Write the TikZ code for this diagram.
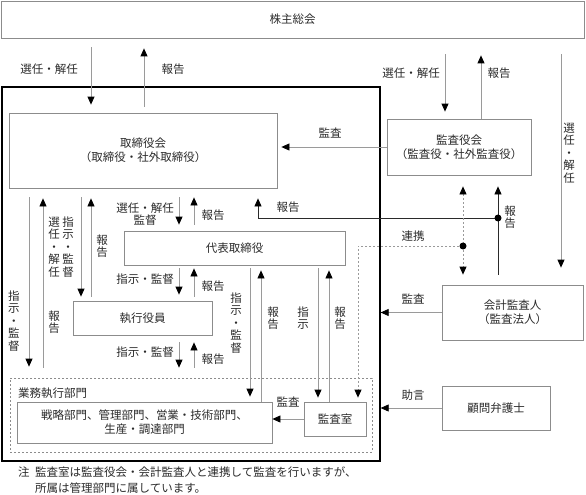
\documentclass[tikz,border=0pt]{standalone}
\usepackage{fontspec}
\setmainfont{Noto Sans CJK JP}
\usepackage{xcolor}
\usetikzlibrary{arrows.meta}
\definecolor{lineg}{HTML}{9A9A9A}
\definecolor{boxg}{HTML}{8C8C8C}
\definecolor{ink}{HTML}{2A2A2A}

\begin{document}
\begin{tikzpicture}[x=1pt,y=-1pt,text=ink,font=\fontsize{11.5}{14}\selectfont,
		box/.style={draw=boxg,line width=0.8pt,inner sep=0pt,align=center},
		bigframe/.style={draw=black,line width=1.3pt,inner sep=0pt},
		dashframe/.style={draw=boxg,line width=0.7pt,dash pattern=on 2pt off 2pt,inner sep=0pt},
		tip/.tip={Triangle[length=8pt,width=7pt,color=black]},
		arr/.style={draw=lineg,line width=0.8pt,-tip},
		darkarr/.style={draw=ink,line width=0.8pt,-tip},
		dotarr/.style={draw=lineg,line width=0.8pt,dash pattern=on 2pt off 2pt},
		tate/.style={align=center,inner sep=0pt,font=\fontsize{11.5}{12.5}\selectfont},
		lbl/.style={inner sep=0pt,align=center}]
		\useasboundingbox (0,0) rectangle (586,495);
		\node[box,minimum width=583,minimum height=37] (soukai) at (292.5,19.5) {株主総会};
		\node[bigframe,minimum width=378,minimum height=374] (waku) at (191,274) {};
		\node[dashframe,minimum width=362,minimum height=74] (gyomu) at (191,415) {};
		\node[box,minimum width=268,minimum height=75] (tori) at (143,150.5) {取締役会\\（取締役・社外取締役）};
		\node[box,minimum width=144,minimum height=56] (kansayaku) at (459,147) {監査役会\\（監査役・社外監査役）};
		\node[box,minimum width=221,minimum height=34] (daihyo) at (234.5,248) {代表取締役};
		\node[box,minimum width=139,minimum height=34] (shikko) at (142.5,318) {執行役員};
		\node[box,minimum width=255,minimum height=41] (senryaku) at (144.5,422.5) {戦略部門、管理部門、営業・技術部門、\\生産・調達部門};
		\node[box,minimum width=62,minimum height=34] (shitsu) at (335,419) {監査室};
		\node[box,minimum width=141,minimum height=55] (kaikei) at (512.5,312.5) {会計監査人\\（監査法人）};
		\node[box,minimum width=108,minimum height=44] (bengoshi) at (496,408) {顧問弁護士};
		\node[lbl,anchor=west] (gyomulbl) at (18,393) {業務執行部門};

		\coordinate (s1) at (91,0);
		\coordinate (s2) at (144,0);
		\coordinate (s3) at (445,0);
		\coordinate (s4) at (481,0);
		\coordinate (s5) at (561,0);
		\coordinate (l1) at (29,0);
		\coordinate (l2) at (43,0);
		\coordinate (l3) at (81,0);
		\coordinate (l4) at (91,0);
		\coordinate (m1) at (179,0);
		\coordinate (m2) at (194,0);
		\coordinate (r1) at (250,0);
		\coordinate (r2) at (261,0);
		\coordinate (r3) at (318,0);
		\coordinate (r4) at (329,0);
		\coordinate (h1) at (258,0);
		\coordinate (v1) at (463,0);
		\coordinate (v2) at (498,0);
		\coordinate (v3) at (358,0);
		\coordinate (dot1) at (498,218);
		\coordinate (dot2) at (463,246);

		\draw[arr,shorten <=9pt,shorten >=8pt] (soukai.south -| s1) -- (tori.north -| s1);
		\draw[arr,shorten <=6pt,shorten >=10pt] (tori.north -| s2) -- (soukai.south -| s2);
		\draw[arr,shorten <=16pt,shorten >=7pt] (soukai.south -| s3) -- (kansayaku.north -| s3);
		\draw[arr,shorten >=17pt] (kansayaku.north -| s4) -- (soukai.south -| s4);
		\draw[arr,shorten <=16pt,shorten >=17pt] (soukai.south -| s5) -- (kaikei.north -| s5);
		\draw[arr,shorten >=4pt] (kansayaku.west) -- (kansayaku.west -| tori.east);

		\draw[darkarr,shorten <=10pt,shorten >=11pt] (kaikei.north -| v2) -- (kansayaku.south -| v2);
		\draw[darkarr,shorten >=10pt] (dot1) -| (tori.south -| h1);
		\fill (dot1) circle[radius=3.5pt];
		\draw[dotarr,tip-tip,shorten <=11pt,shorten >=10pt] (kansayaku.south -| v1) -- (kaikei.north -| v1);
		\draw[dotarr,-tip,shorten >=4pt] (dot2) -| (shitsu.north -| v3);
		\fill (dot2) circle[radius=3.5pt];
		\draw[arr] (kaikei.west) -- (kaikei.west -| waku.east);
		\draw[arr] (bengoshi.west) -- (bengoshi.west -| waku.east);

		\draw[arr,shorten <=9pt,shorten >=11pt] (tori.south -| l1) -- (gyomu.north -| l1);
		\draw[arr,shorten <=10pt,shorten >=10pt] (gyomu.north -| l2) -- (tori.south -| l2);
		\draw[arr,shorten <=9pt,shorten >=4pt] (tori.south -| l3) -- (shikko.north -| l3);
		\draw[arr,shorten <=4pt,shorten >=10pt] (shikko.north -| l4) -- (tori.south -| l4);
		\draw[arr,shorten <=9pt,shorten >=6pt] (tori.south -| m1) -- (daihyo.north -| m1);
		\draw[arr,shorten <=6pt,shorten >=9pt] (daihyo.north -| m2) -- (tori.south -| m2);
		\draw[arr,shorten <=3pt,shorten >=6pt] (daihyo.south -| m1) -- (shikko.north -| m1);
		\draw[arr,shorten <=4pt,shorten >=3pt] (shikko.north -| m2) -- (daihyo.south -| m2);
		\draw[arr,shorten <=7pt,shorten >=10pt] (shikko.south -| m1) -- (gyomu.north -| m1);
		\draw[arr,shorten <=10pt,shorten >=7pt] (gyomu.north -| m2) -- (shikko.south -| m2);
		\draw[arr,shorten <=3pt,shorten >=5pt] (daihyo.south -| r1) -- (senryaku.north -| r1);
		\draw[arr,shorten >=5pt] (senryaku.north -| r2) -- (daihyo.south -| r2);
		\draw[arr,shorten <=3pt,shorten >=4pt] (daihyo.south -| r3) -- (shitsu.north -| r3);
		\draw[arr,shorten >=5pt] (shitsu.north -| r4) -- (daihyo.south -| r4);
		\draw[arr] (shitsu.west) -- (shitsu.west -| senryaku.east);

		\node[lbl] (t1) at (49,69) {選任・解任};
		\node[lbl] (t2) at (173,69) {報告};
		\node[lbl] (t3) at (411,73) {選任・解任};
		\node[lbl] (t4) at (499,73) {報告};
		\node[tate] (t5) at (569,153) {選\\任\\・\\解\\任};
		\node[lbl] (t6) at (330,133) {監査};
		\node[lbl] (t7) at (288,207) {報告};
		\node[tate] (t8) at (510,217) {報\\告};
		\node[lbl] (t9) at (413,236) {連携};
		\node[lbl] (t10) at (413,299) {監査};
		\node[lbl] (t11) at (413,395) {助言};
		\node[tate] (t12) at (14,321) {指\\示\\・\\監\\督};
		\node[tate] (t13) at (54,322) {報\\告};
		\node[tate] (t14) at (54,247) {選\\任\\・\\解\\任};
		\node[tate] (t15) at (68,247) {指\\示\\・\\監\\督};
		\node[tate] (t16) at (102,246) {報\\告};
		\node[lbl,font=\fontsize{11.5}{12.5}\selectfont] (t17) at (145,214) {選任・解任\\監督};
		\node[lbl] (t18) at (213,215) {報告};
		\node[lbl] (t19) at (145,279) {指示・監督};
		\node[lbl] (t20) at (213,286) {報告};
		\node[lbl] (t21) at (145,352) {指示・監督};
		\node[lbl] (t22) at (213,359) {報告};
		\node[tate] (t23) at (236,323) {指\\示\\・\\監\\督};
		\node[tate] (t24) at (273,318) {報\\告};
		\node[tate] (t25) at (303,318) {指\\示};
		\node[tate] (t26) at (340,318) {報\\告};
		\node[lbl] (t27) at (288,402) {監査};
		\node[lbl,anchor=west] (chu) at (18,472) {注};
		\node[lbl,anchor=west] (note1) at (35,472) {監査室は監査役会・会計監査人と連携して監査を行いますが、};
		\node[lbl,anchor=west] (note2) at (35,488) {所属は管理部門に属しています。};
\end{tikzpicture}
\end{document}
